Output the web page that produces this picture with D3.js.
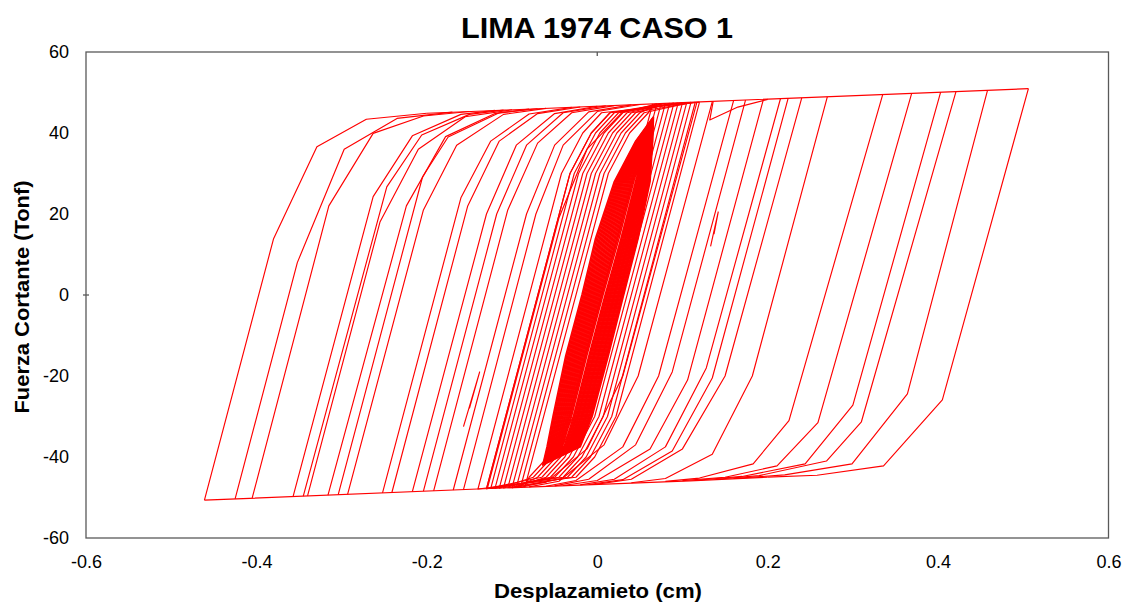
<!DOCTYPE html>
<html><head><meta charset="utf-8">
<script src="https://cdn.jsdelivr.net/npm/d3@7"></script>
<style>body{margin:0;background:#fff}</style>
</head><body><svg id="chart" width="1126" height="605"></svg>
<script>
// ---------- data (displacement cm, shear force Tonf) ----------
const xTicks = [-0.6, -0.4, -0.2, 0, 0.2, 0.4, 0.6];
const xTickLabels = ["-0.6", "-0.4", "-0.2", "0", "0.2", "0.4", "0.6"];
const yTicks = [-60, -40, -20, 0, 20, 40, 60];
const yTickLabels = ["-60", "-40", "-20", "0", "20", "40", "60"];

const upperEnvelope = [[-0.200, 44.88], [-0.126, 45.5], [0.121, 47.7], [0.506, 50.95]];
const lowerEnvelope = [[-0.461, -50.66], [-0.126, -47.78], [0.109, -45.9], [0.200, -44.98]];

// large unloading branches (right side)
const outerDescending = [
  [[0.506, 50.95], [0.405, -25.9], [0.336, -42.2], [0.258, -44.5], [0.200, -44.98]],
  [[0.458, 50.54], [0.364, -24.4], [0.299, -41.7], [0.220, -44.4], [0.160, -45.32]],
  [[0.421, 50.22], [0.310, -31.3], [0.269, -41.0], [0.190, -44.6], [0.140, -45.5]],
  [[0.403, 50.07], [0.300, -27.2], [0.244, -41.7], [0.170, -44.8], [0.120, -45.67]],
  [[0.369, 49.77], [0.259, -31.5], [0.211, -42.2], [0.150, -45.0], [0.100, -45.84]],
  [[0.335, 49.48], [0.225, -31.0], [0.183, -41.7], [0.120, -45.2], [0.080, -46.01]],
  [[0.270, 48.92], [0.182, -20.0], [0.135, -39.3], [0.080, -45.3], [0.040, -46.36]]
];

// intermediate unloading branches
const middleDescending = [
  [[0.240, 48.66], [0.150, -20.0], [0.100, -38.0], [0.040, -45.5], [0.000, -46.7]],
  [[0.224, 48.53], [0.135, -20.5], [0.088, -38.5], [0.030, -45.6], [-0.010, -46.79]],
  [[0.215, 48.45], [0.128, -18.0], [0.080, -37.5], [0.020, -45.5], [-0.020, -46.87]],
  [[0.195, 48.28], [0.106, -21.0], [0.062, -38.0], [0.000, -45.8], [-0.040, -47.04]],
  [[0.174, 48.10], [0.088, -19.0], [0.045, -37.0], [-0.010, -45.5], [-0.050, -47.13]],
  [[0.160, 47.98], [0.072, -20.0], [0.030, -37.5], [-0.025, -45.8], [-0.060, -47.22]],
  [[0.135, 47.76], [0.048, -20.0], [0.008, -37.0], [-0.045, -46.0], [-0.080, -47.39]],
  [[0.117, 47.61], [0.030, -20.0], [-0.012, -38.0], [-0.060, -46.2], [-0.100, -47.56]]
];

// reloading branches (left side)
const ascending = [
  [[-0.461, -50.66], [-0.380, 13.8], [-0.329, 36.6], [-0.271, 43.4], [-0.200, 44.88]],
  [[-0.425, -50.36], [-0.352, 8.0], [-0.297, 36.0], [-0.235, 43.6], [-0.170, 45.14]],
  [[-0.405, -50.18], [-0.315, 22.0], [-0.263, 39.9], [-0.204, 44.2], [-0.150, 45.31]],
  [[-0.357, -49.77], [-0.263, 24.3], [-0.217, 39.3], [-0.160, 44.6], [-0.120, 45.57]],
  [[-0.345, -49.67], [-0.247, 26.7], [-0.206, 39.5], [-0.150, 44.6], [-0.110, 45.65]],
  [[-0.340, -49.62], [-0.255, 18.0], [-0.210, 36.0], [-0.155, 44.0], [-0.100, 45.74]],
  [[-0.316, -49.42], [-0.224, 22.0], [-0.178, 39.1], [-0.120, 44.8], [-0.080, 45.91]],
  [[-0.304, -49.31], [-0.205, 29.2], [-0.175, 39.0], [-0.115, 45.0], [-0.070, 46.0]],
  [[-0.293, -49.22], [-0.204, 21.0], [-0.165, 37.0], [-0.110, 44.6], [-0.060, 46.08]],
  [[-0.252, -48.87], [-0.160, 24.0], [-0.125, 38.0], [-0.080, 44.7], [-0.030, 46.34]],
  [[-0.241, -48.77], [-0.152, 22.0], [-0.115, 38.0], [-0.070, 44.8], [-0.020, 46.43]],
  [[-0.217, -48.57], [-0.130, 20.0], [-0.095, 37.0], [-0.050, 44.8], [0.000, 46.6]],
  [[-0.204, -48.45], [-0.118, 20.0], [-0.083, 37.0], [-0.040, 45.0], [0.010, 46.69]],
  [[-0.192, -48.35], [-0.105, 21.0], [-0.070, 37.5], [-0.030, 45.0], [0.020, 46.77]],
  [[-0.169, -48.15], [-0.083, 20.0], [-0.050, 37.0], [-0.010, 45.2], [0.040, 46.94]],
  [[-0.157, -48.05], [-0.072, 20.0], [-0.040, 37.0], [0.000, 45.3], [0.050, 47.03]],
  [[-0.129, -47.81], [-0.045, 19.0], [-0.012, 36.0], [0.030, 45.3], [0.080, 47.29]]
];

// medium cycles around the central core
const mediumLoops = [
  [[0.065, 47.16], [-0.033, -30], [-0.058, -40], [-0.080, -45], [-0.085, -47.43], [0.013, 30], [0.038, 40], [0.060, 45], [0.065, 47.16]],
  [[0.075, 47.25], [-0.023, -30], [-0.048, -40], [-0.070, -45], [-0.095, -47.52], [0.003, 30], [0.028, 40], [0.050, 45], [0.075, 47.25]],
  [[0.085, 47.33], [-0.013, -30], [-0.038, -40], [-0.060, -45], [-0.100, -47.56], [-0.002, 30], [0.023, 40], [0.045, 45], [0.085, 47.33]],
  [[0.090, 47.37], [-0.008, -30], [-0.033, -40], [-0.055, -45], [-0.110, -47.65], [-0.012, 30], [0.013, 40], [0.035, 45], [0.090, 47.37]],
  [[0.095, 47.42], [-0.003, -30], [-0.028, -40], [-0.050, -45], [-0.120, -47.73], [-0.022, 30], [0.003, 40], [0.025, 45], [0.095, 47.42]],
  [[0.100, 47.46], [0.002, -30], [-0.023, -40], [-0.045, -45], [-0.125, -47.78], [-0.027, 30], [-0.002, 40], [0.020, 45], [0.100, 47.46]],
  [[0.105, 47.50], [0.007, -30], [-0.018, -40], [-0.040, -45], [-0.130, -47.82], [-0.032, 30], [-0.007, 40], [0.015, 45], [0.105, 47.50]],
  [[0.110, 47.55], [0.012, -30], [-0.013, -40], [-0.035, -45], [-0.090, -47.47], [0.008, 30], [0.033, 40], [0.055, 45], [0.110, 47.55]],
  [[0.080, 47.29], [-0.018, -30], [-0.043, -40], [-0.065, -45], [-0.130, -47.82], [-0.032, 30], [-0.007, 40], [0.015, 45], [0.080, 47.29]],
  [[0.070, 47.20], [-0.028, -30], [-0.053, -40], [-0.075, -45], [-0.115, -47.69], [-0.017, 30], [0.008, 40], [0.030, 45], [0.070, 47.20]],
  [[0.115, 47.59], [0.017, -30], [-0.008, -40], [-0.030, -45], [-0.105, -47.60], [-0.007, 30], [0.018, 40], [0.040, 45], [0.115, 47.59]],
  [[0.120, 47.63], [0.022, -30], [-0.003, -40], [-0.025, -45], [-0.140, -47.90], [-0.042, 30], [-0.017, 40], [0.005, 45], [0.120, 47.63]]
];

// dense small cycles (solid core): force levels, peaks, valleys,
// displacement of the unloading (right) and reloading (left) branch at each level
const coreLevels = [38, 28, 14, 0, -15, -30, -37.5];
const corePeaks = [[0.066, 44.0], [0.0655, 43.8], [0.065, 43.6], [0.0645, 43.4], [0.064, 43.2], [0.0635, 43.0], [0.063, 42.8], [0.0625, 42.6], [0.062, 42.4], [0.0615, 42.2],
  [0.061, 42.0], [0.0605, 41.8], [0.060, 41.6], [0.0595, 41.4], [0.059, 41.2], [0.0585, 41.0], [0.058, 40.8], [0.0575, 40.6], [0.057, 40.4], [0.0565, 40.2]];
const coreValleys = [[-0.064, -42.0], [-0.0633, -41.8], [-0.0626, -41.6], [-0.0619, -41.4], [-0.0612, -41.2], [-0.0605, -41.0], [-0.0598, -40.8], [-0.0591, -40.6], [-0.0584, -40.4], [-0.0577, -40.2],
  [-0.057, -40.0], [-0.0563, -39.8], [-0.0556, -39.6], [-0.0549, -39.4], [-0.0542, -39.2], [-0.0535, -39.0], [-0.0528, -38.8], [-0.0521, -38.6], [-0.0514, -38.4], [-0.0507, -38.2]];
const coreRightX = [
  [0.065, 0.062, 0.048, 0.031, 0.013, -0.006, -0.020],
  [0.0647, 0.0611, 0.047, 0.0299, 0.0118, -0.0072, -0.021],
  [0.0643, 0.0602, 0.0459, 0.0287, 0.0106, -0.0083, -0.022],
  [0.0640, 0.0593, 0.0449, 0.0276, 0.0094, -0.0095, -0.023],
  [0.0636, 0.0584, 0.0438, 0.0264, 0.0082, -0.0106, -0.024],
  [0.0633, 0.0575, 0.0428, 0.0253, 0.0070, -0.0118, -0.025],
  [0.0629, 0.0566, 0.0417, 0.0241, 0.0058, -0.0129, -0.026],
  [0.0626, 0.0557, 0.0407, 0.0230, 0.0046, -0.0141, -0.027],
  [0.0622, 0.0548, 0.0396, 0.0218, 0.0034, -0.0152, -0.028],
  [0.0619, 0.0539, 0.0386, 0.0207, 0.0022, -0.0164, -0.029],
  [0.0615, 0.0530, 0.0375, 0.0195, 0.0010, -0.0175, -0.030],
  [0.0612, 0.0521, 0.0365, 0.0184, -0.0002, -0.0187, -0.031],
  [0.0608, 0.0512, 0.0354, 0.0172, -0.0014, -0.0198, -0.032],
  [0.0605, 0.0503, 0.0344, 0.0161, -0.0026, -0.0210, -0.033],
  [0.0601, 0.0494, 0.0333, 0.0149, -0.0038, -0.0221, -0.034],
  [0.0598, 0.0485, 0.0323, 0.0138, -0.0050, -0.0233, -0.035],
  [0.0594, 0.0476, 0.0312, 0.0126, -0.0062, -0.0244, -0.036],
  [0.0591, 0.0467, 0.0302, 0.0115, -0.0074, -0.0256, -0.037],
  [0.0587, 0.0458, 0.0291, 0.0103, -0.0086, -0.0267, -0.038],
  [0.0584, 0.0449, 0.0281, 0.0092, -0.0098, -0.0279, -0.039]
];
const coreLeftX = [
  [0.045, 0.020, -0.002, -0.018, -0.037, -0.052, -0.059],
  [0.0457, 0.0212, -0.0006, -0.0167, -0.0357, -0.0509, -0.0581],
  [0.0463, 0.0224, 0.0009, -0.0154, -0.0344, -0.0497, -0.0571],
  [0.0470, 0.0236, 0.0024, -0.0141, -0.0331, -0.0486, -0.0562],
  [0.0476, 0.0248, 0.0038, -0.0128, -0.0318, -0.0474, -0.0552],
  [0.0483, 0.0260, 0.0053, -0.0115, -0.0305, -0.0463, -0.0543],
  [0.0489, 0.0272, 0.0067, -0.0102, -0.0292, -0.0451, -0.0533],
  [0.0496, 0.0284, 0.0082, -0.0089, -0.0279, -0.0440, -0.0524],
  [0.0502, 0.0296, 0.0096, -0.0076, -0.0266, -0.0428, -0.0514],
  [0.0509, 0.0308, 0.0111, -0.0063, -0.0253, -0.0417, -0.0505],
  [0.0515, 0.0320, 0.0125, -0.0050, -0.0240, -0.0405, -0.0495],
  [0.0522, 0.0332, 0.0140, -0.0037, -0.0227, -0.0394, -0.0486],
  [0.0528, 0.0344, 0.0154, -0.0024, -0.0214, -0.0382, -0.0476],
  [0.0535, 0.0356, 0.0169, -0.0011, -0.0201, -0.0371, -0.0467],
  [0.0541, 0.0368, 0.0183, 0.0002, -0.0188, -0.0359, -0.0457],
  [0.0548, 0.0380, 0.0198, 0.0015, -0.0175, -0.0348, -0.0448],
  [0.0554, 0.0392, 0.0212, 0.0028, -0.0162, -0.0336, -0.0438],
  [0.0561, 0.0404, 0.0227, 0.0041, -0.0149, -0.0325, -0.0429],
  [0.0567, 0.0416, 0.0241, 0.0054, -0.0136, -0.0313, -0.0419],
  [0.0574, 0.0428, 0.0256, 0.0067, -0.0123, -0.0302, -0.0410]
];

// short partial reversals
const minorSegments = [
  [[0.136, 47.77], [0.132, 43.2], [0.165, 46.4], [0.200, 48.3]],
  [[-0.157, -32.5], [-0.138, -19.0], [-0.150, -28.0]],
  [[0.133, 12.0], [0.142, 20.5], [0.137, 15.0]]
];

// assemble core cycles from the table above
const coreLoops = corePeaks.map((p, i) => {
  const right = coreLevels.map((lv, j) => [coreRightX[i][j], lv]);
  const left = coreLevels.map((lv, j) => [coreLeftX[i][j], lv]).reverse();
  return [p, ...right, coreValleys[i], ...left, p];
});

// ---------- drawing ----------
const W = 1126, H = 605;
const svg = d3.select('#chart');
const x = d3.scaleLinear().domain([-0.6, 0.6]).range([86, 1108.5]);
const y = d3.scaleLinear().domain([-60, 60]).range([538, 52]);
const font = "'Liberation Sans', Arial, sans-serif";

svg.append('rect').attr('width', W).attr('height', H).attr('fill', '#fff');

// title
svg.append('text').attr('x', 597).attr('y', 38)
  .attr('text-anchor', 'middle').attr('font-family', font).attr('font-weight', 'bold')
  .attr('font-size', 29).attr('textLength', 272).attr('lengthAdjust', 'spacingAndGlyphs')
  .attr('fill', '#000').text('LIMA 1974 CASO 1');

// hysteresis lines
const line = d3.line().x(d => x(d[0])).y(d => y(d[1]));
const g = svg.append('g').attr('fill', 'none').attr('stroke', '#ff0000')
  .attr('stroke-width', 1.15).attr('stroke-linejoin', 'round');
const allPaths = [upperEnvelope, lowerEnvelope]
  .concat(outerDescending, middleDescending, ascending, mediumLoops, minorSegments);
g.selectAll('path.branch').data(allPaths).join('path').attr('class', 'branch').attr('d', line);
g.selectAll('path.core').data(coreLoops).join('path').attr('class', 'core')
  .attr('stroke-width', 1.6).attr('d', line);

// plot frame
svg.append('rect').attr('x', x(-0.6)).attr('y', y(60))
  .attr('width', x(0.6) - x(-0.6)).attr('height', y(-60) - y(60))
  .attr('fill', 'none').attr('stroke', '#595959').attr('stroke-width', 1.3);
// small zero marks
svg.append('line').attr('x1', x(0)).attr('x2', x(0)).attr('y1', y(60)).attr('y2', y(60) + 4)
  .attr('stroke', '#595959').attr('stroke-width', 1.3);
svg.append('line').attr('x1', x(-0.6) - 3).attr('x2', x(-0.6) + 3).attr('y1', y(0)).attr('y2', y(0))
  .attr('stroke', '#595959').attr('stroke-width', 1.3);

// axes (labels only)
const xAxis = d3.axisBottom(x).tickValues(xTicks).tickSize(0).tickPadding(17)
  .tickFormat((d, i) => xTickLabels[i]);
const gx = svg.append('g').attr('transform', `translate(0,${y(-60)})`).call(xAxis);
gx.select('.domain').remove();
gx.selectAll('text').attr('font-family', font).attr('font-size', 18).attr('fill', '#000');

const yAxis = d3.axisLeft(y).tickValues(yTicks).tickSize(0).tickPadding(17)
  .tickFormat((d, i) => yTickLabels[i]);
const gy = svg.append('g').attr('transform', `translate(${x(-0.6)},0)`).call(yAxis);
gy.select('.domain').remove();
gy.selectAll('text').attr('font-family', font).attr('font-size', 18).attr('fill', '#000');

// axis titles
svg.append('text').attr('x', 598).attr('y', 598)
  .attr('text-anchor', 'middle').attr('font-family', font).attr('font-weight', 'bold')
  .attr('font-size', 21).attr('textLength', 208).attr('lengthAdjust', 'spacingAndGlyphs')
  .text('Desplazamieto (cm)');
svg.append('text').attr('transform', 'translate(29,297) rotate(-90)')
  .attr('text-anchor', 'middle').attr('font-family', font).attr('font-weight', 'bold')
  .attr('font-size', 21).attr('textLength', 233).attr('lengthAdjust', 'spacingAndGlyphs')
  .text('Fuerza Cortante (Tonf)');
</script></body></html>
